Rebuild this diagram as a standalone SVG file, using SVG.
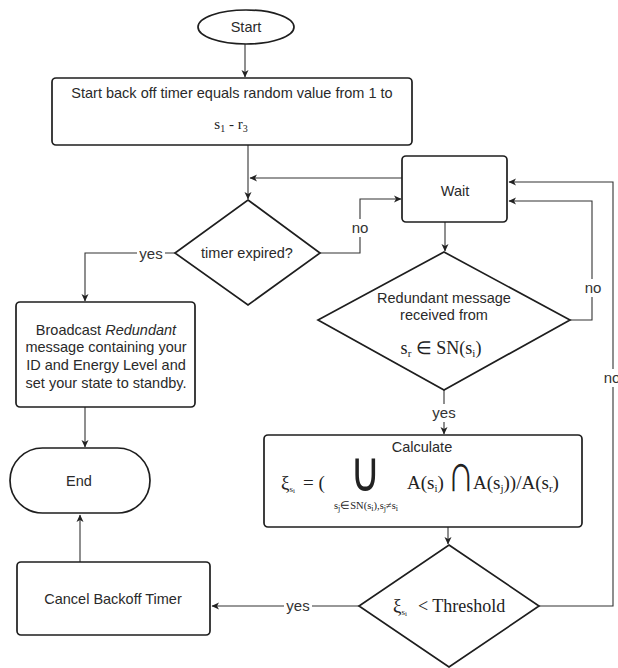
<svg xmlns="http://www.w3.org/2000/svg" width="618" height="668" viewBox="0 0 618 668">
<defs>
<marker id="arr" markerWidth="8" markerHeight="8" refX="7" refY="4" orient="auto" markerUnits="userSpaceOnUse">
<path d="M0,0.5 L7.5,4 L0,7.5 L2,4 z" fill="#222"/>
</marker>
<style>
.shape{fill:#fff;stroke:#1e1e1e;stroke-width:1.7}
.t{font-family:"Liberation Sans",Arial,sans-serif;font-size:14.5px;fill:#2a2a2a;text-anchor:middle}
.m{font-family:"Liberation Serif","Times New Roman",serif;fill:#222}
.c{fill:none;stroke:#333;stroke-width:1.1;marker-end:url(#arr)}
.lbl{font-family:"Liberation Sans",Arial,sans-serif;font-size:15px;fill:#333;text-anchor:middle}
.bg{fill:#fff}
</style>
</defs>
<rect width="618" height="668" fill="#fff"/>

<g id="connectors">
<path class="c" d="M245,44 V77"/>
<path class="c" d="M248,145 V199"/>
<path class="c" d="M402,178 H250"/>
<path class="c" d="M318,253 H360 V199 H401"/>
<path class="c" d="M175,253 H85 V301"/>
<path class="c" d="M85,407 V447"/>
<path class="c" d="M445,222 V251"/>
<path class="c" d="M570,320 H592 V201 H509"/>
<path class="c" d="M444,390 V434"/>
<path class="c" d="M448,527 V544"/>
<path class="c" d="M359,606 H212"/>
<path class="c" d="M539,606 H613 V182 H509"/>
<path class="c" d="M80,562 V515"/>
<rect class="bg" x="350" y="219" width="20" height="18"/>
<text class="lbl" x="360" y="233">no</text>
<rect class="bg" x="137" y="246" width="28" height="18"/>
<text class="lbl" x="151" y="259">yes</text>
<rect class="bg" x="583" y="279" width="20" height="18"/>
<text class="lbl" x="593" y="293">no</text>
<rect class="bg" x="430" y="404" width="28" height="18"/>
<text class="lbl" x="444" y="418">yes</text>
<rect class="bg" x="284" y="597" width="28" height="18"/>
<text class="lbl" x="298" y="611">yes</text>
<rect class="bg" x="602" y="369" width="20" height="18"/>
<text class="lbl" x="612" y="383">no</text>
</g>

<g id="start">
<ellipse class="shape" cx="246" cy="27" rx="48" ry="17"/>
<text class="t" x="246" y="32">Start</text>
</g>

<g id="backoff">
<rect class="shape" x="52" y="78" width="360" height="67" rx="4"/>
<text class="t" x="232" y="98" font-size="14.3">Start back off timer equals random value from 1 to</text>
<text class="m" x="231" y="129" font-size="15" text-anchor="middle">s<tspan font-size="10" dy="3">1</tspan><tspan dy="-3"> - r</tspan><tspan font-size="10" dy="3">3</tspan></text>
</g>

<g id="timer">
<polygon class="shape" points="248,200 320,253 248,305 175,253"/>
<text class="t" x="247" y="258">timer expired?</text>
</g>

<g id="wait">
<rect class="shape" x="402" y="156" width="105" height="66" rx="4"/>
<text class="t" x="455" y="196">Wait</text>
</g>

<g id="broadcast">
<rect class="shape" x="16" y="302" width="179" height="105" rx="4"/>
<text class="t" x="106" y="335">Broadcast <tspan font-style="italic">Redundant</tspan></text>
<text class="t" x="106" y="352">message containing your</text>
<text class="t" x="106" y="370">ID and Energy Level and</text>
<text class="t" x="106" y="388">set your state to standby.</text>
</g>

<g id="end">
<rect class="shape" x="10" y="448" width="140" height="65" rx="32.5"/>
<text class="t" x="79" y="486">End</text>
</g>

<g id="redundant">
<polygon class="shape" points="444,252 570,320 444,390 318,320"/>
<text class="t" x="444" y="303">Redundant message</text>
<text class="t" x="444" y="320">received from</text>
<text class="m" x="441" y="354" font-size="18" text-anchor="middle">s<tspan font-size="11" dy="3">r</tspan><tspan dy="-3"> ∈ SN(s</tspan><tspan font-size="11" dy="3">i</tspan><tspan dy="-3">)</tspan></text>
</g>

<g id="calculate">
<rect class="shape" x="264" y="435" width="318" height="92" rx="4"/>
<text class="t" x="422" y="452">Calculate</text>
<text class="m" x="281" y="489" font-size="19">ξ<tspan font-size="9" dy="3">s</tspan><tspan font-size="7" dy="1">i</tspan></text>
<text class="m" x="303" y="489" font-size="19">= (</text>
<text class="m" font-size="32" text-anchor="middle" fill="#333" transform="translate(365,491) scale(1.3,1.75)">∪</text>
<text class="m" x="407" y="489" font-size="19">A(s<tspan font-size="11" dy="3">i</tspan><tspan dy="-3">)</tspan></text>
<text class="m" font-size="31" text-anchor="middle" fill="#333" transform="translate(461,491) scale(1.2,1.75)">∩</text>
<text class="m" x="473" y="489" font-size="19">A(s<tspan font-size="11" dy="3">j</tspan><tspan dy="-3">))/A(s</tspan><tspan font-size="11" dy="3">r</tspan><tspan dy="-3">)</tspan></text>
<text class="m" x="366" y="509" font-size="10.5" text-anchor="middle">s<tspan font-size="8" dy="2">j</tspan><tspan dy="-2">∈SN(s</tspan><tspan font-size="8" dy="2">i</tspan><tspan dy="-2">),s</tspan><tspan font-size="8" dy="2">j</tspan><tspan dy="-2">≠s</tspan><tspan font-size="8" dy="2">i</tspan></text>
</g>

<g id="threshold">
<polygon class="shape" points="449,545 539,606 449,667 359,606"/>
<text class="m" x="393" y="612" font-size="19">ξ<tspan font-size="9" dy="3">s</tspan><tspan font-size="7" dy="1">i</tspan></text>
<text class="m" x="418" y="612" font-size="18">&lt; Threshold</text>
</g>

<g id="cancel">
<rect class="shape" x="17" y="562" width="193" height="73" rx="4"/>
<text class="t" x="113" y="604">Cancel Backoff Timer</text>
</g>
</svg>
